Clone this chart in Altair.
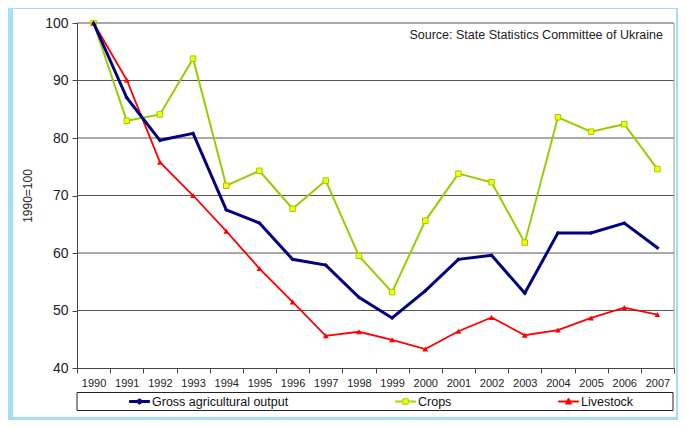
import altair as alt
import pandas as pd

# ---------------- data ----------------
years = list(range(1990, 2008))
gross = [100, 87.0, 79.6, 80.8, 67.5, 65.2, 58.9, 57.9, 52.3, 48.7, 53.4, 58.9,
         59.6, 53.0, 63.5, 63.5, 65.2, 60.9]
crops = [100, 83.0, 84.1, 93.8, 71.7, 74.3, 67.7, 72.6, 59.5, 53.2, 65.6, 73.8,
         72.3, 61.8, 83.6, 81.1, 82.4, 74.6]
livestock = [100, 90.1, 75.8, 70.0, 63.8, 57.3, 51.5, 45.6, 46.3, 44.9, 43.3, 46.4,
             48.8, 45.7, 46.6, 48.7, 50.5, 49.3]
series_names = ["Gross agricultural output", "Crops", "Livestock"]
y_ticks = [40, 50, 60, 70, 80, 90, 100]
grid_values = [50, 60, 70, 80, 90, 100]
source_text = "Source: State Statistics Committee of Ukraine"
y_title = "1990=100"

# ---------------- tables ----------------
rows = []
for name, vals in zip(series_names, [gross, crops, livestock]):
    for yr, v in zip(years, vals):
        rows.append({"year": yr, "series": name, "value": v})
df = pd.DataFrame(rows)
grid_df = pd.DataFrame({"value": grid_values})
one = pd.DataFrame({"t": [source_text]})

FONT = "Liberation Sans"
W, H = 597, 345

x_enc = alt.X(
    "year:O",
    bandPosition=0.5,
    scale=alt.Scale(type="band", paddingInner=0, paddingOuter=0),
    axis=alt.Axis(
        title=None, tickBand="extent", tickSize=5, tickColor="#444",
        domainColor="#444", labelFontSize=11, labelColor="#222", labelPadding=4,
        labelAngle=0, labelOverlap=False, labelFlush=False, grid=False, zindex=1,
        labelFont=FONT,
    ),
)
y_scale = alt.Scale(domain=[40, 100], nice=False, zero=False)
y_axis = alt.Axis(
    values=y_ticks, tickSize=5, tickColor="#444", domainColor="#444",
    labelFontSize=14, labelColor="#222", labelPadding=4, grid=False, zindex=1,
    title=y_title, titleFontSize=12, titleFontWeight="normal", titleColor="#222",
    titleAngle=270, titleX=-50, titleY=H / 2, titleAlign="center",
    titleBaseline="middle", labelFont=FONT, titleFont=FONT,
)
y_enc = alt.Y("value:Q", scale=y_scale, axis=y_axis)

# white panel inside the light-blue frame
panel = alt.Chart(one).mark_rect(fill="white", strokeWidth=0).encode(
    x=alt.value(-64), x2=alt.value(599), y=alt.value(-14), y2=alt.value(394)
)

grid = alt.Chart(grid_df).mark_rule(color="#555", strokeWidth=1).encode(y=y_enc)
right_border = alt.Chart(one).mark_rule(color="#999", strokeWidth=1).encode(
    x=alt.value(W), y=alt.value(0), y2=alt.value(H)
)

base = alt.Chart(df)


def sel(name):
    return base.transform_filter(alt.datum.series == name)


gross_line = sel(series_names[0]).mark_line(color="#000080", strokeWidth=3).encode(x=x_enc, y=y_enc)
gross_pts = sel(series_names[0]).mark_point(
    shape="diamond", size=18, filled=True, color="#000080", opacity=1
).encode(x=x_enc, y=y_enc)
crops_line = sel(series_names[1]).mark_line(color="#99cc00", strokeWidth=2).encode(x=x_enc, y=y_enc)
crops_pts = sel(series_names[1]).mark_point(
    shape="square", size=30, filled=True, fill="#ffff00", stroke="#99cc00",
    strokeWidth=1, opacity=1
).encode(x=x_enc, y=y_enc)
live_line = sel(series_names[2]).mark_line(color="#ff0000", strokeWidth=1.8).encode(x=x_enc, y=y_enc)
live_pts = sel(series_names[2]).mark_point(
    shape="triangle-up", size=34, filled=True, color="#ff0000", opacity=1
).encode(x=x_enc, y=y_enc)

# legend symbols: line with marker
legend_paths = [
    "M-1,-0.1H-0.25L0,-0.28L0.25,-0.1H1V0.1H0.25L0,0.28L-0.25,0.1H-1Z",
    "M-1,-0.05H-0.27V-0.27H0.27V-0.05H1V0.05H0.27V0.27H-0.27V0.05H-1Z",
    "M-1,-0.05H-0.15L0,-0.35L0.15,-0.05H1V0.05H0.2L0.3,0.25H-0.3L-0.2,0.05H-1Z",
]
legend_fills = ["#000080", "#ffff00", "#ff0000"]
legend_strokes = ["#000080", "#99cc00", "#ff0000"]

leg = alt.Legend(
    title=None, orient="none", legendX=52, legendY=368, direction="horizontal",
    columns=3, columnPadding=104, padding=0, labelFontSize=12.5, labelFont=FONT,
    labelColor="#111", labelOffset=2, symbolSize=400, symbolStrokeWidth=1,
    labelLimit=400,
)
legend_layer = base.transform_filter("false").mark_point(
    filled=True, size=400, opacity=1, strokeWidth=1
).encode(
    x=x_enc, y=y_enc,
    shape=alt.Shape("series:N", scale=alt.Scale(domain=series_names, range=legend_paths), legend=leg),
    fill=alt.Fill("series:N", scale=alt.Scale(domain=series_names, range=legend_fills), legend=leg),
    stroke=alt.Stroke("series:N", scale=alt.Scale(domain=series_names, range=legend_strokes), legend=leg),
)

legend_box = alt.Chart(one).mark_rect(fill="white", stroke="#222", strokeWidth=1).encode(
    x=alt.value(0), x2=alt.value(W - 1), y=alt.value(369.5), y2=alt.value(387.5)
)

source = alt.Chart(one).mark_text(
    align="right", baseline="middle", fontSize=12.5, font=FONT, color="#222"
).encode(x=alt.value(586), y=alt.value(12), text="t:N")

chart = alt.layer(
    panel, grid, right_border, legend_box,
    crops_line, crops_pts, live_line, live_pts, gross_line, gross_pts,
    legend_layer, source,
).properties(
    width=W, height=H,
    autosize=alt.AutoSizeParams(type="none"),
    padding={"left": 69, "top": 15, "right": 4, "bottom": 52},
    background="#a6def7",
).configure_view(stroke=None).configure(font=FONT)

chart.save("out.html", embed_options={"renderer": "svg", "actions": False})
